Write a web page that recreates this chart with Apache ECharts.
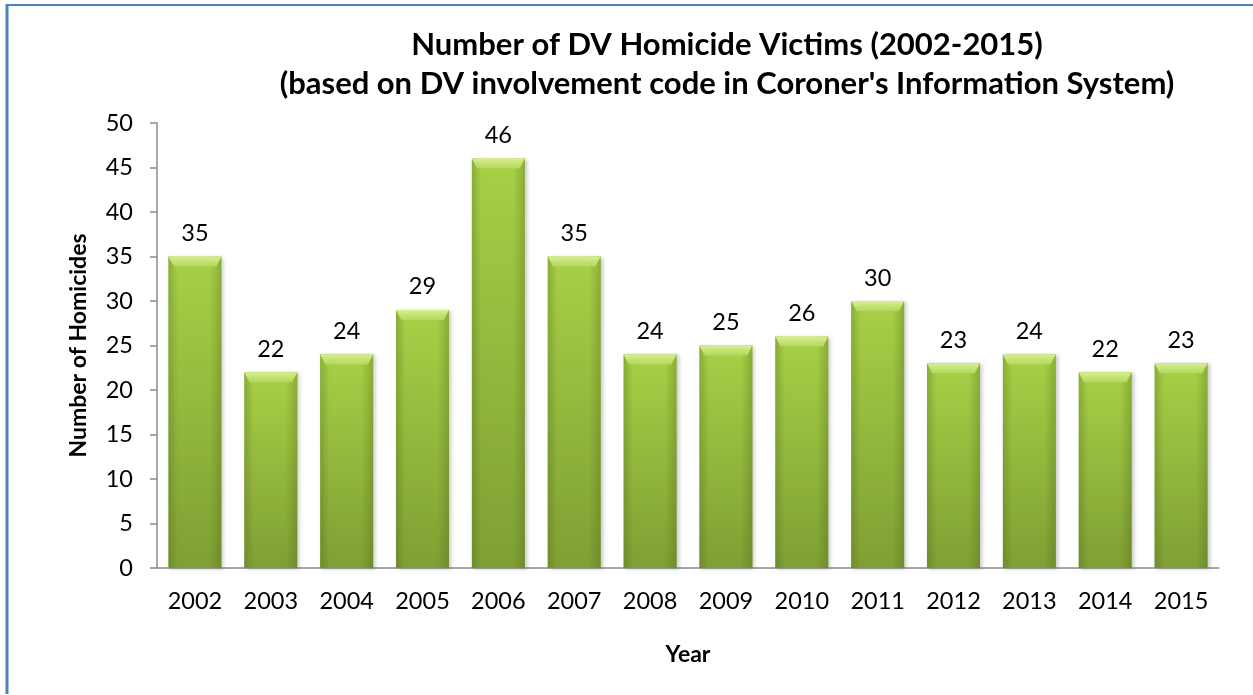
<!DOCTYPE html>
<html>
<head>
<meta charset="utf-8">
<script src="https://cdn.jsdelivr.net/npm/echarts@6/dist/echarts.min.js"></script>
<style>
  html, body { margin: 0; padding: 0; background: #fff; }
  #chart { width: 1253px; height: 695px; }
</style>
</head>
<body>
<div id="chart"></div>
<script>
// data
const years = ['2002', '2003', '2004', '2005', '2006', '2007', '2008',
  '2009', '2010', '2011', '2012', '2013', '2014', '2015'];
const victims = [35, 22, 24, 29, 46, 35, 24, 25, 26, 30, 23, 24, 22, 23];
const yTicks = { min: 0, max: 50, interval: 5 };

const titleLines = [
  'Number of DV Homicide Victims (2002-2015)',
  "(based on DV involvement code in Coroner's Information System)",
];

const font = 'Lato, "Liberation Sans", sans-serif';
const axisGray = '#8c8c8c';

const chart = echarts.init(document.getElementById('chart'));

const barFill = new echarts.graphic.LinearGradient(0, 0, 0, 1, [
  { offset: 0, color: '#a8d046' },
  { offset: 1, color: '#7f9f34' },
]);
// darker edges on the left and right, clear in the middle
const edgeShade = new echarts.graphic.LinearGradient(0, 0, 1, 0, [
  { offset: 0, color: 'rgba(70,95,20,0.3)' },
  { offset: 0.18, color: 'rgba(70,95,20,0)' },
  { offset: 0.78, color: 'rgba(70,95,20,0)' },
  { offset: 1, color: 'rgba(70,95,20,0.3)' },
]);
const bevelFill = new echarts.graphic.LinearGradient(0, 0, 0, 1, [
  { offset: 0, color: '#d8ef90' },
  { offset: 1, color: '#b3d75a' },
]);

const option = {
  animation: false,
  textStyle: { fontFamily: font },
  grid: { left: 157, right: 34, top: 123, bottom: 127 },
  graphic: [
    {
      type: 'line',
      shape: { x1: 7, y1: 4, x2: 7, y2: 694 },
      style: { stroke: '#4f81bd', lineWidth: 3 },
    },
    {
      type: 'line',
      shape: { x1: 6, y1: 5, x2: 1253, y2: 5 },
      style: { stroke: '#4f81bd', lineWidth: 2 },
    },
    {
      type: 'text',
      x: 727,
      y: 45,
      style: {
        text: titleLines[0],
        font: 'bold 31px ' + font,
        fill: '#000',
        textAlign: 'center',
        textVerticalAlign: 'middle',
      },
    },
    {
      type: 'text',
      x: 727,
      y: 84,
      style: {
        text: titleLines[1],
        font: 'bold 31px ' + font,
        fill: '#000',
        textAlign: 'center',
        textVerticalAlign: 'middle',
      },
    },
  ],
  xAxis: {
    type: 'category',
    data: years,
    name: 'Year',
    nameLocation: 'middle',
    nameGap: 75,
    nameTextStyle: { fontSize: 23, fontWeight: 'bold', color: '#000', fontFamily: font },
    axisLine: { lineStyle: { color: axisGray, width: 1.5 } },
    axisTick: { length: 7, lineStyle: { color: axisGray, width: 1.5 } },
    axisLabel: { fontSize: 23.5, color: '#000', margin: 21, fontFamily: font },
  },
  yAxis: {
    type: 'value',
    min: yTicks.min,
    max: yTicks.max,
    interval: yTicks.interval,
    name: 'Number of Homicides',
    nameLocation: 'middle',
    nameGap: 67,
    nameTextStyle: { fontSize: 23, fontWeight: 'bold', color: '#000', fontFamily: font },
    splitLine: { show: false },
    axisLine: { show: true, lineStyle: { color: axisGray, width: 1.5 } },
    axisTick: { show: true, length: 7, lineStyle: { color: axisGray, width: 1.5 } },
    axisLabel: { fontSize: 23.5, color: '#000', margin: 24, fontFamily: font },
  },
  series: [
    {
      type: 'bar',
      data: victims,
      barWidth: 53,
      itemStyle: {
        color: barFill,
        shadowColor: 'rgba(0,0,0,0.22)',
        shadowBlur: 4,
        shadowOffsetX: 2,
        shadowOffsetY: 1,
      },
      label: {
        show: true,
        position: 'top',
        distance: 11,
        fontSize: 23.5,
        color: '#000',
        fontFamily: font,
      },
      z: 2,
    },
    {
      type: 'bar',
      data: victims,
      barWidth: 53,
      barGap: '-100%',
      itemStyle: { color: edgeShade },
      silent: true,
      z: 3,
    },
    {
      type: 'pictorialBar',
      data: victims,
      symbol: 'path://M0,0 L20,0 L18,2 L2,2 Z',
      symbolSize: [53, 10],
      symbolPosition: 'end',
      symbolOffset: [0, 0],
      barGap: '-100%',
      itemStyle: { color: bevelFill },
      silent: true,
      z: 4,
    },
  ],
};

chart.setOption(option);
</script>
</body>
</html>
